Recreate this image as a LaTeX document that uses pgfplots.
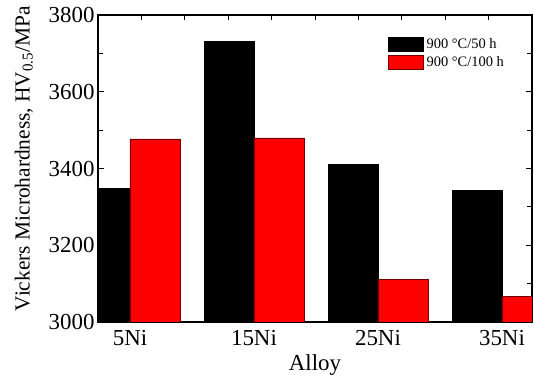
\documentclass[border=0pt]{standalone}
\usepackage{pgfplots}
\pgfplotsset{compat=1.18}
\usepackage{fontspec}
\setmainfont{Liberation Serif}
\begin{document}
\begin{tikzpicture}
\begin{axis}[
  at={(98bp,54bp)}, anchor=south west,
  scale only axis, width=434bp, height=307bp,
  xmin=-0.258, xmax=3.242,
  ymin=3000, ymax=3800,
  ybar=0pt, bar width=0.403,
  xtick={0,1,2,3},
  xticklabels={5Ni,15Ni,25Ni,35Ni},
  x tick style={draw=none},
  ytick={3000,3200,3400,3600,3800},
  minor y tick num=1,
  tick align=inside,
  ytick pos=both,
  major tick length=6bp, minor tick length=5bp,
  axis line style={line width=1.1bp},
  every tick/.style={line width=1bp, black},
  /pgf/number format/1000 sep={},
  /pgf/number format/assume math mode=true,
  tick label style={font=\fontsize{23}{26}\selectfont},
  xticklabel style={yshift=-5bp},
  xlabel={Alloy}, ylabel={Vickers Microhardness, HV\textsubscript{0.5}/MPa},
  xlabel style={font=\fontsize{23}{26}\selectfont, yshift=-2bp},
  ylabel style={font=\fontsize{21.5}{24}\selectfont, yshift=9bp, xshift=10bp},
  legend style={draw=none, fill=none, at={(0.668,0.93)}, anchor=north west,
    font=\fontsize{14.5}{16}\selectfont, inner sep=0pt, row sep=3.5bp,
    nodes={inner xsep=3bp, inner ysep=0.5bp}},
  legend cell align=left,
  legend image code/.code={\draw[#1] (0bp,-7bp) rectangle (35bp,7bp);},
]
\addplot[fill=black, draw=black] coordinates {(0,3349) (1,3732) (2,3410) (3,3343)};
\addlegendentry{900 °C/50 h}
\addplot[fill=red, draw=red!45!black, line width=0.5bp] coordinates {(0,3477) (1,3480) (2,3111) (3,3066)};
\addlegendentry{900 °C/100 h}
\end{axis}
\begin{axis}[
  at={(98bp,54bp)}, anchor=south west,
  scale only axis, width=434bp, height=307bp,
  xmin=0, xmax=10, ymin=0, ymax=1,
  axis x line*=top, axis y line=none,
  xtick={1,...,9}, xticklabels={},
  tick align=inside, major tick length=5bp,
  every tick/.style={line width=1bp, black},
  axis line style={line width=1.1bp},
]
\end{axis}
\pgfresetboundingbox
\path[use as bounding box] (0,0) rectangle (534bp,376bp);
\end{tikzpicture}
\end{document}
